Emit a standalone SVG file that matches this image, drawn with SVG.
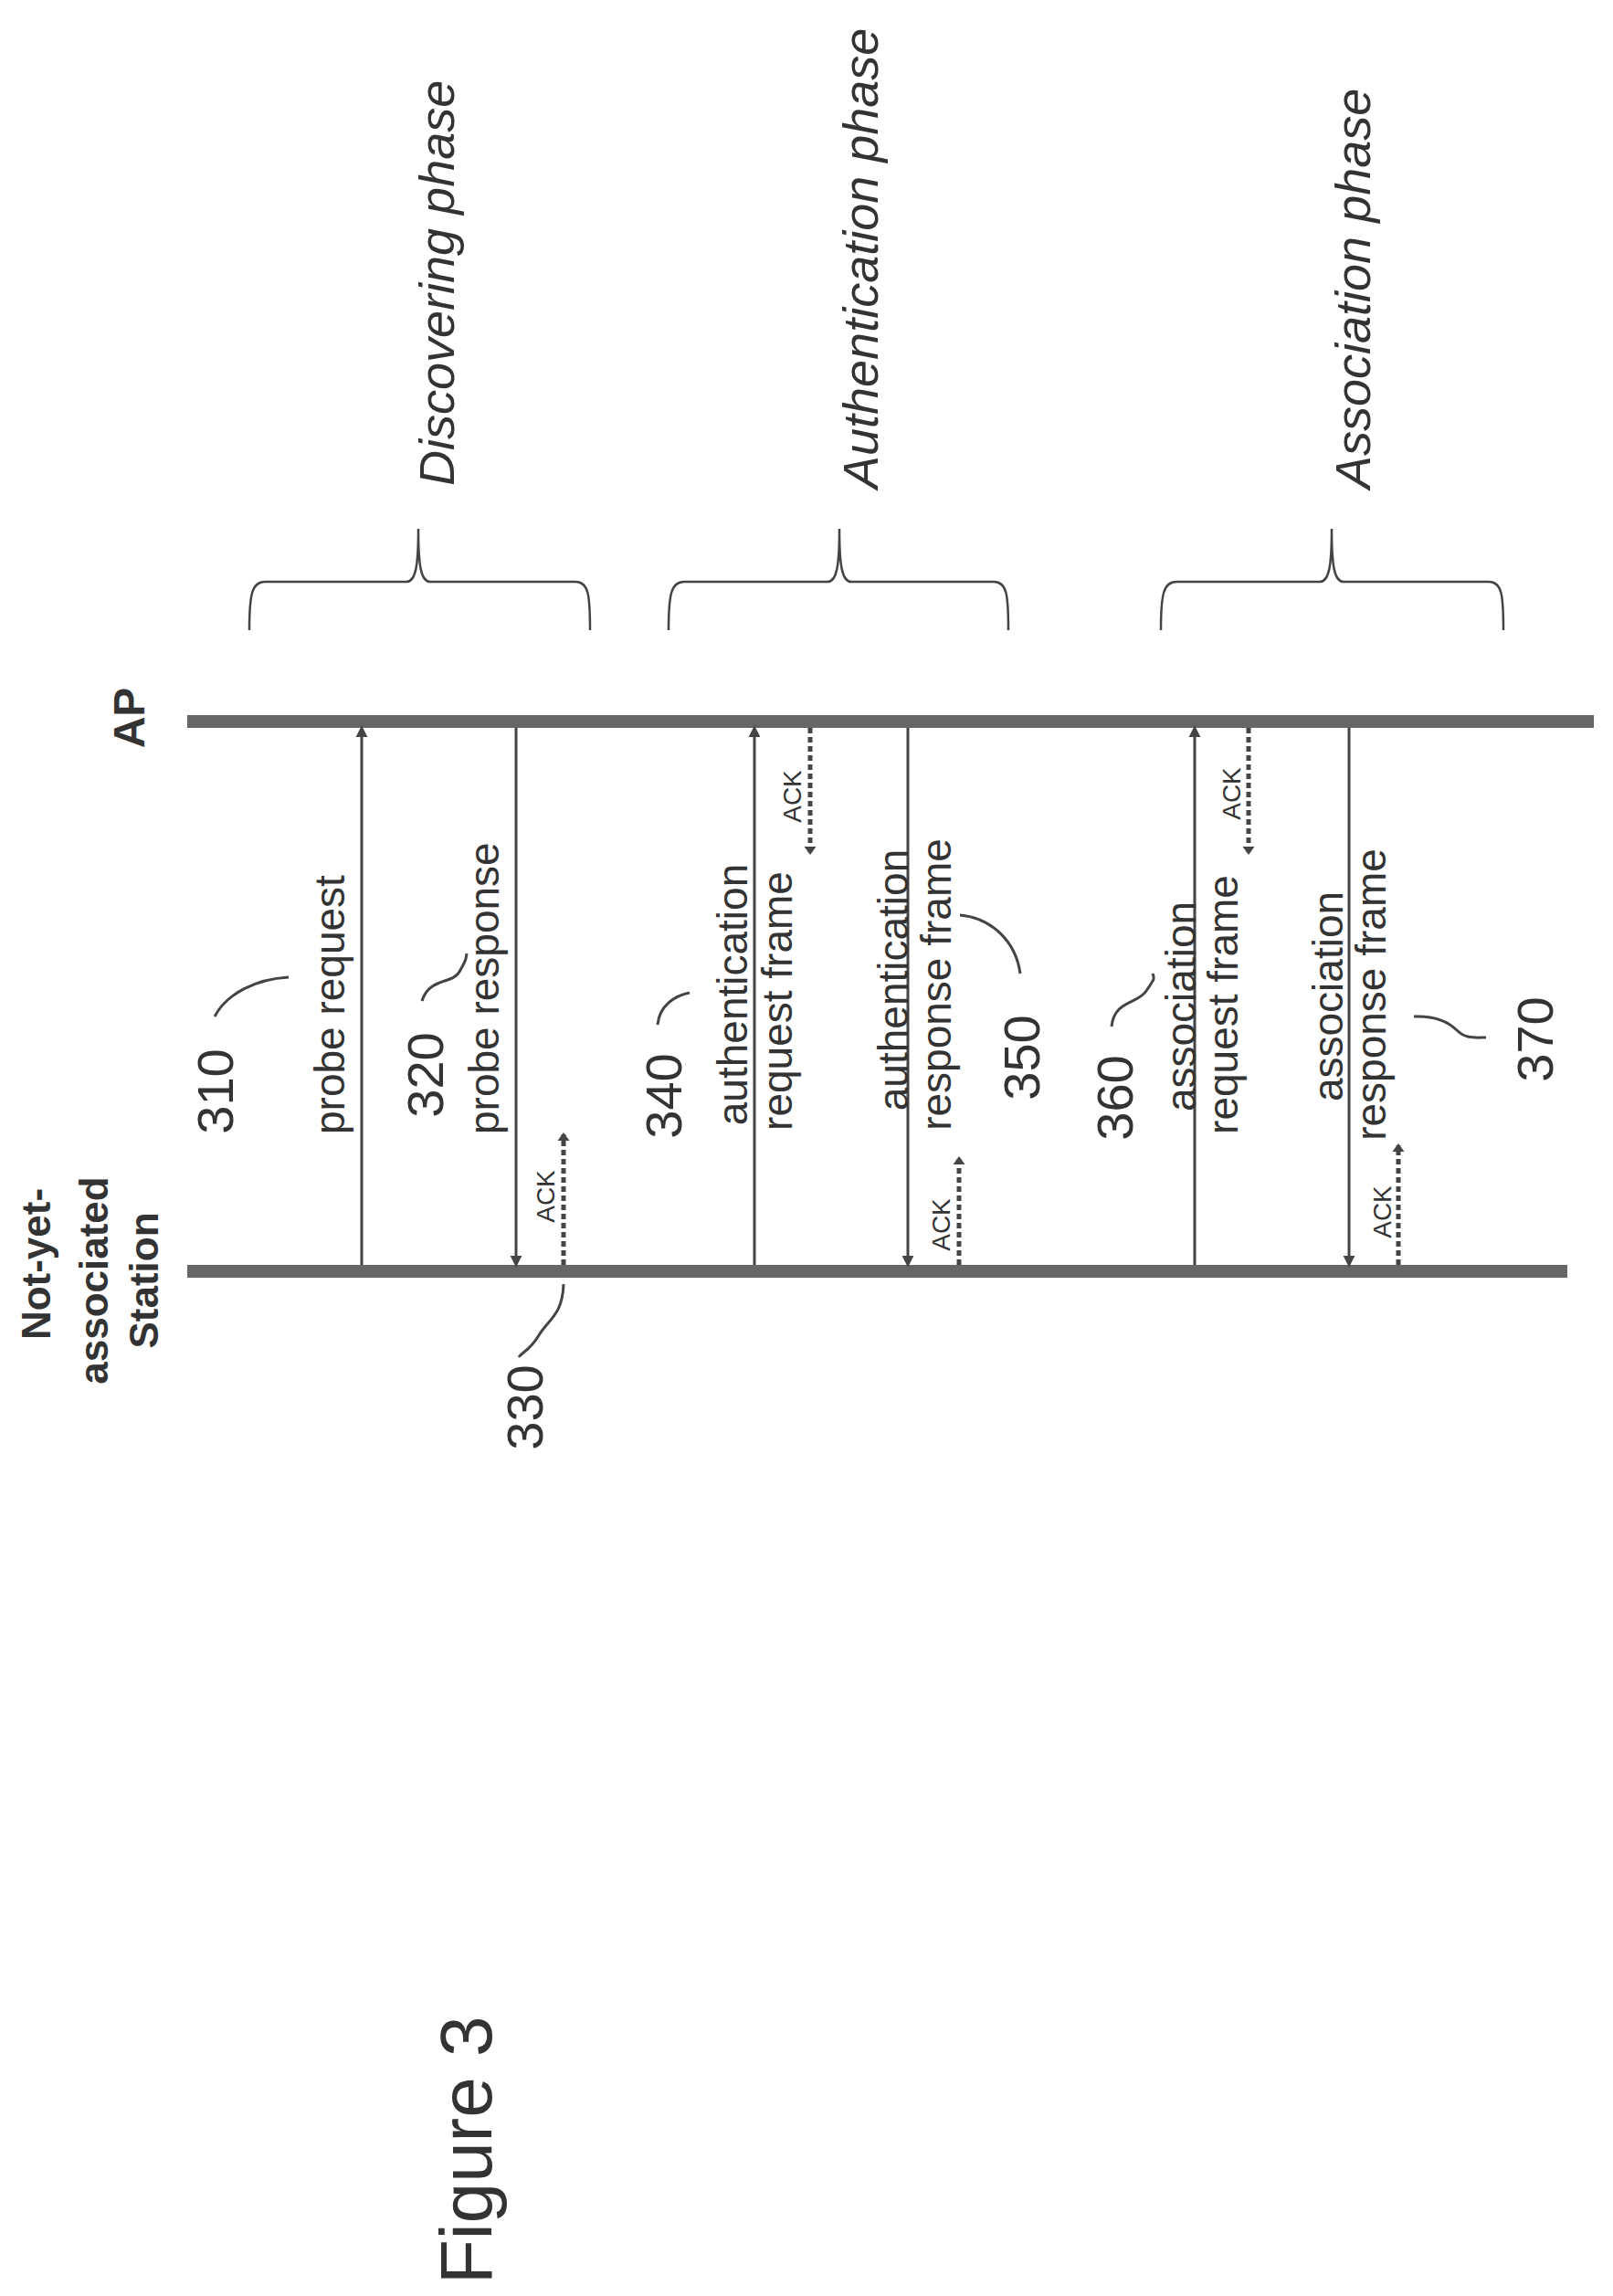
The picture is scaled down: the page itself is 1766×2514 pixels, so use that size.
<svg xmlns="http://www.w3.org/2000/svg" width="1766" height="2514" viewBox="0 0 1766 2514">
<style>
text{font-family:"Liberation Sans",Arial,sans-serif;fill:#333}
.lbl{font-size:46px}
.num{font-size:56px}
.ack{font-size:28px}
.bold{font-weight:bold;font-size:44px}
.ph{font-size:54px;font-style:italic}
.life{stroke:#666;stroke-width:14}
.msg{stroke:#444;stroke-width:3;fill:none}
.ackl{stroke:#444;stroke-width:5;stroke-dasharray:6,4;fill:none}
.sq{stroke:#444;stroke-width:3;fill:none}
.br{stroke:#444;stroke-width:2.5;fill:none}
</style>
<defs>
<marker id="ah" viewBox="0 0 10 10" refX="10" refY="5" markerWidth="8" markerHeight="8" markerUnits="userSpaceOnUse" orient="auto" style="overflow:visible"><path d="M0,-3 L16,5 L0,13 Z" fill="#444"/></marker>
<marker id="ah2" viewBox="0 0 10 10" refX="10" refY="5" markerWidth="5" markerHeight="5" markerUnits="userSpaceOnUse" orient="auto" style="overflow:visible"><path d="M-4,-8 L14,5 L-4,18 Z" fill="#444"/></marker>
</defs>
<g id="lifelines">
<line class="life" x1="205" y1="790" x2="1745" y2="790"/>
<line class="life" x1="205" y1="1392" x2="1716" y2="1392"/>
</g>
<g id="station"><text class="bold" transform="translate(55,1384) rotate(-90)" text-anchor="middle">Not-yet-</text>
<text class="bold" transform="translate(118,1402) rotate(-90)" text-anchor="middle">associated</text>
<text class="bold" transform="translate(173,1402) rotate(-90)" text-anchor="middle">Station</text></g>
<g id="ap"><text class="bold" style="font-size:48px" transform="translate(158,786) rotate(-90)" text-anchor="middle">AP</text></g>
<g id="connectors">
<line class="msg" x1="396" y1="1385" x2="396" y2="799" marker-end="url(#ah)"/>
<line class="msg" x1="565" y1="797" x2="565" y2="1383" marker-end="url(#ah)"/>
<line class="msg" x1="826" y1="1385" x2="826" y2="799" marker-end="url(#ah)"/>
<line class="msg" x1="994" y1="797" x2="994" y2="1383" marker-end="url(#ah)"/>
<line class="msg" x1="1308" y1="1385" x2="1308" y2="799" marker-end="url(#ah)"/>
<line class="msg" x1="1477" y1="797" x2="1477" y2="1383" marker-end="url(#ah)"/>
<line class="ackl" x1="617" y1="1385" x2="617" y2="1242" marker-end="url(#ah2)"/>
<line class="ackl" x1="887" y1="797" x2="887" y2="934" marker-end="url(#ah2)"/>
<line class="ackl" x1="1050" y1="1385" x2="1050" y2="1268" marker-end="url(#ah2)"/>
<line class="ackl" x1="1367" y1="797" x2="1367" y2="934" marker-end="url(#ah2)"/>
<line class="ackl" x1="1531" y1="1385" x2="1531" y2="1254" marker-end="url(#ah2)"/>
</g>
<g id="m310"><text class="num" transform="translate(255,1195) rotate(-90)" text-anchor="middle">310</text>
<path class="sq" d="M235,1113 C248,1088 280,1072 316,1070"/>
<text class="lbl" transform="translate(377,1242) rotate(-90)">probe request</text></g>
<g id="m320"><text class="num" transform="translate(485,1177) rotate(-90)" text-anchor="middle">320</text>
<path class="sq" d="M462,1096 C470,1070 495,1078 503,1064 S510,1050 511,1044"/>
<text class="lbl" transform="translate(546,1242) rotate(-90)">probe response</text>
<text class="ack" transform="translate(607,1310) rotate(-90)" text-anchor="middle">ACK</text></g>
<g id="m330"><text class="num" transform="translate(594,1541) rotate(-90)" text-anchor="middle">330</text>
<path class="sq" d="M617,1406 C616,1440 600,1445 590,1462 S572,1480 568,1486"/></g>
<g id="m340"><text class="num" transform="translate(746,1200) rotate(-90)" text-anchor="middle">340</text>
<path class="sq" d="M720,1122 C722,1100 740,1090 755,1087"/>
<text class="lbl" transform="translate(818,1089) rotate(-90)" text-anchor="middle">authentication</text>
<text class="lbl" transform="translate(867,1096) rotate(-90)" text-anchor="middle">request frame</text>
<text class="ack" transform="translate(877,872) rotate(-90)" text-anchor="middle">ACK</text></g>
<g id="m350"><text class="lbl" transform="translate(994,1073) rotate(-90)" text-anchor="middle">authentication</text>
<text class="lbl" transform="translate(1041,1078) rotate(-90)" text-anchor="middle">response frame</text>
<path class="sq" d="M1051,1002 C1085,1005 1112,1030 1117,1066"/>
<text class="num" transform="translate(1138,1158) rotate(-90)" text-anchor="middle">350</text>
<text class="ack" transform="translate(1040,1341) rotate(-90)" text-anchor="middle">ACK</text></g>
<g id="m360"><text class="num" transform="translate(1240,1202) rotate(-90)" text-anchor="middle">360</text>
<path class="sq" d="M1217,1124 C1220,1095 1245,1100 1255,1085 S1264,1072 1262,1066"/>
<text class="lbl" transform="translate(1309,1102) rotate(-90)" text-anchor="middle">association</text>
<text class="lbl" transform="translate(1355,1100) rotate(-90)" text-anchor="middle">request frame</text>
<text class="ack" transform="translate(1358,869) rotate(-90)" text-anchor="middle">ACK</text></g>
<g id="m370"><text class="lbl" transform="translate(1470,1091) rotate(-90)" text-anchor="middle">association</text>
<text class="lbl" transform="translate(1517,1089) rotate(-90)" text-anchor="middle">response frame</text>
<path class="sq" d="M1548,1113 C1570,1112 1585,1118 1595,1128 S1615,1136 1627,1136"/>
<text class="num" transform="translate(1700,1138) rotate(-90)" text-anchor="middle">370</text>
<text class="ack" transform="translate(1523,1327) rotate(-90)" text-anchor="middle">ACK</text></g>
<g id="phase1"><path class="br" d="M273,690 C273,650 276,637 290,637 L445,637 C455,637 458,620 458,579 C458,620 461,637 471,637 L630,637 C644,637 646,650 646,690"/>
<text class="ph" transform="translate(497,532) rotate(-90)">Discovering phase</text></g>
<g id="phase2"><path class="br" d="M732,690 C732,650 735,637 749,637 L906,637 C916,637 919,620 919,579 C919,620 922,637 932,637 L1088,637 C1102,637 1104,650 1104,690"/>
<text class="ph" transform="translate(961,535) rotate(-90)">Authentication phase</text></g>
<g id="phase3"><path class="br" d="M1271,690 C1271,650 1274,637 1288,637 L1445,637 C1455,637 1458,620 1458,579 C1458,620 1461,637 1471,637 L1630,637 C1644,637 1646,650 1646,690"/>
<text class="ph" transform="translate(1500,535) rotate(-90)">Association phase</text></g>
<g id="fig"><text style="font-size:80px" transform="translate(538,2501) rotate(-90)">Figure 3</text></g>
</svg>
